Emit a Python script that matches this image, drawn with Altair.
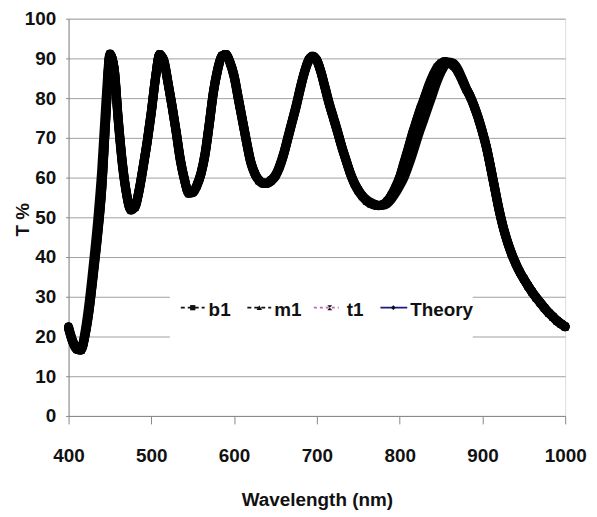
import altair as alt
import pandas as pd

FONT = "Liberation Sans, Arial, sans-serif"

# Wavelength sampling (nm)
wavelength = list(range(400, 1001, 5))

b1 = [
    22.0, 18.6, 16.8, 16.6, 20.5, 27.0, 36.0, 45.5, 57.0, 75.0,
    91.0, 87.5, 74.5, 63.5, 56.0, 52.0, 52.5, 56.5, 62.5, 69.0,
    76.5, 85.0, 91.0, 89.5, 84.0, 78.0, 71.5, 64.5, 59.5, 56.2,
    56.3, 58.0, 61.0, 66.0, 73.5, 81.5, 87.0, 90.5, 91.0, 89.0,
    85.5, 80.0, 74.5, 69.0, 64.0, 61.0, 59.3, 58.6, 58.6, 59.3,
    60.5, 62.8, 66.0, 70.0, 74.0, 78.0, 82.5, 86.5, 89.5, 90.5,
    89.5, 86.5, 82.5, 78.5, 75.0, 71.5, 67.8, 64.5, 61.3, 58.7,
    56.8, 55.3, 54.2, 53.5, 53.1, 53.0, 53.2, 54.0, 55.5, 57.5,
    60.0, 63.5, 67.0, 70.7, 74.0, 77.2, 80.0, 83.0, 85.5, 87.5,
    88.7, 89.2, 88.8, 88.2, 86.8, 84.8, 82.5, 80.5, 78.0, 75.0,
    71.5, 67.5, 62.5, 57.2, 52.0, 47.6, 44.0, 41.0, 38.5, 36.3,
    34.5, 32.8, 31.2, 29.8, 28.5, 27.2, 26.0, 25.0, 24.0, 23.2,
    22.5,
]

m1 = [
    22.3, 18.8, 16.9, 16.5, 20.2, 26.6, 35.5, 45.0, 56.5, 74.5,
    90.8, 87.8, 75.0, 64.0, 56.3, 52.2, 52.4, 56.3, 62.2, 68.8,
    76.2, 84.8, 90.8, 89.7, 84.3, 78.3, 71.8, 64.8, 59.7, 56.3,
    56.2, 57.8, 60.8, 65.7, 73.2, 81.2, 86.8, 90.4, 91.0, 89.2,
    85.8, 80.3, 74.8, 69.3, 64.3, 61.2, 59.4, 58.7, 58.5, 59.1,
    60.3, 62.5, 65.7, 69.7, 73.7, 77.7, 82.2, 86.3, 89.3, 90.4,
    89.6, 86.7, 82.8, 78.8, 75.3, 71.8, 68.0, 64.7, 61.5, 58.9,
    57.0, 55.4, 54.3, 53.6, 53.2, 53.0, 53.1, 53.8, 55.3, 57.3,
    59.8, 63.2, 66.7, 70.4, 73.8, 77.0, 79.8, 82.8, 85.3, 87.3,
    88.6, 89.1, 88.8, 88.3, 86.9, 85.0, 82.7, 80.7, 78.2, 75.2,
    71.7, 67.7, 62.7, 57.4, 52.2, 47.8, 44.2, 41.2, 38.6, 36.4,
    34.6, 32.9, 31.3, 29.9, 28.6, 27.3, 26.1, 25.1, 24.1, 23.3,
    22.6,
]

t1 = [
    22.5, 19.0, 17.2, 17.0, 21.5, 29.0, 38.5, 49.0, 62.0, 79.0,
    91.2, 87.2, 74.0, 63.0, 55.7, 51.8, 52.6, 56.8, 62.8, 69.3,
    76.8, 85.3, 91.0, 89.3, 83.8, 77.8, 71.2, 64.2, 59.3, 56.0,
    56.4, 58.2, 61.3, 66.4, 73.8, 81.8, 87.3, 90.7, 91.0, 88.8,
    85.2, 79.7, 74.2, 68.7, 63.7, 60.8, 59.2, 58.5, 58.7, 59.5,
    60.7, 63.1, 66.3, 70.3, 74.3, 78.3, 82.8, 86.7, 89.7, 90.6,
    89.4, 86.3, 82.3, 78.3, 74.8, 71.3, 67.6, 64.3, 61.1, 58.5,
    56.6, 55.2, 54.1, 53.4, 53.0, 52.9, 53.3, 54.2, 55.7, 57.7,
    60.2, 63.7, 67.2, 70.9, 74.2, 77.4, 80.2, 83.2, 85.7, 87.7,
    88.8, 89.2, 88.7, 88.1, 86.7, 84.6, 82.3, 80.3, 77.8, 74.8,
    71.3, 67.3, 62.3, 57.0, 51.8, 47.4, 43.8, 40.8, 38.3, 36.2,
    34.4, 32.7, 31.1, 29.7, 28.4, 27.1, 25.9, 24.9, 23.9, 23.1,
    22.4,
]

theory = [
    22.0, 18.5, 16.7, 16.6, 20.6, 27.2, 36.2, 45.8, 57.3, 75.3,
    91.0, 87.6, 74.6, 63.6, 56.0, 51.9, 52.5, 56.6, 62.6, 69.1,
    76.6, 85.1, 91.0, 89.5, 84.0, 78.0, 71.5, 64.5, 59.5, 56.2,
    56.3, 58.0, 61.0, 66.0, 73.5, 81.5, 87.0, 90.5, 91.0, 89.0,
    85.5, 80.0, 74.5, 69.0, 64.0, 61.0, 59.3, 58.6, 58.6, 59.3,
    60.5, 62.8, 66.0, 70.0, 74.0, 78.0, 82.5, 86.5, 89.5, 90.5,
    89.5, 86.5, 82.5, 78.5, 75.0, 71.5, 67.8, 64.5, 61.3, 58.7,
    56.9, 55.5, 54.5, 53.8, 53.3, 53.0, 53.0, 53.4, 54.5, 56.0,
    57.8, 59.8, 62.5, 65.5, 68.8, 72.0, 75.0, 78.0, 81.0, 84.0,
    86.5, 88.3, 89.1, 88.8, 87.5, 85.3, 82.8, 80.6, 78.0, 75.0,
    71.5, 67.5, 62.5, 57.2, 52.0, 47.6, 44.0, 41.0, 38.5, 36.3,
    34.5, 32.8, 31.2, 29.8, 28.5, 27.2, 26.0, 25.0, 24.0, 23.2,
    22.5,
]

series_names = ["b1", "m1", "t1", "Theory"]
series_values = [b1, m1, t1, theory]

rows = []
for name, vals in zip(series_names, series_values):
    for w, v in zip(wavelength, vals):
        rows.append({"Wavelength": w, "T": v, "Series": name})
df = pd.DataFrame(rows)

hourglass = "M-1,-1L1,-1L-1,1L1,1Z"

x_enc = alt.X(
    "Wavelength:Q",
    scale=alt.Scale(domain=[400, 1000], nice=False, zero=False),
    axis=alt.Axis(
        values=[400, 500, 600, 700, 800, 900, 1000],
        format="d",
        title="Wavelength (nm)",
        grid=False,
        tickSize=8,
        tickColor="#888888",
        domainColor="#888888",
        labelFont=FONT,
        labelFontSize=19,
        labelFontWeight="bold",
        labelColor="#111111",
        labelBaseline="middle",
        labelPadding=32,
        labelFlush=False,
        labelOverlap=False,
        titleFont=FONT,
        titleFontSize=19,
        titleFontWeight="bold",
        titleColor="#111111",
        titleBaseline="alphabetic",
        titleY=90,
    ),
)
y_enc = alt.Y(
    "T:Q",
    scale=alt.Scale(domain=[0, 100], nice=False),
    axis=alt.Axis(
        values=[0, 10, 20, 30, 40, 50, 60, 70, 80, 90, 100],
        format="d",
        title="T %",
        grid=True,
        gridColor="#a0a0a0",
        gridWidth=1,
        tickSize=3,
        tickColor="#888888",
        domainColor="#888888",
        labelFont=FONT,
        labelFontSize=19,
        labelFontWeight="bold",
        labelColor="#111111",
        labelPadding=10,
        labelOverlap=False,
        titleFont=FONT,
        titleFontSize=19,
        titleFontWeight="bold",
        titleColor="#111111",
        titleAngle=270,
        titleX=-46,
        titleY=202,
        titleAlign="center",
        titleBaseline="middle",
    ),
)

lines = alt.Chart(df).mark_line(
    color="black", strokeWidth=9, interpolate="monotone",
    strokeCap="round", strokeJoin="round",
).encode(x=x_enc, y=y_enc, detail="Series:N")

points = alt.Chart(df).mark_point(filled=True, size=55, color="black", opacity=1).encode(
    x=x_enc,
    y=y_enc,
    shape=alt.Shape(
        "Series:N",
        scale=alt.Scale(domain=series_names, range=["square", "triangle-up", hourglass, "diamond"]),
        legend=None,
    ),
)

# Manual in-plot legend (white box covering gridlines)
legend_layers = [
    alt.Chart(pd.DataFrame({"k": [0]})).mark_rect(color="white").encode(
        x=alt.value(102), x2=alt.value(407), y=alt.value(268), y2=alt.value(330)
    )
]
legend_items = [
    # label, line x0, line x1, marker x, shape, line color, dash, text x, marker size
    ("b1", 113, 137, 125, "square", "#111111", [4, 3], 141, 28),
    ("m1", 180, 204, 192, "triangle-up", "#111111", [4, 3], 207, 30),
    ("t1", 247, 272, 263, hourglass, "#c060c0", [3, 3], 280, 26),
    ("Theory", 314, 341, 327, "diamond", "#1a1a80", [1, 0], 344, 24),
]
for label, lx0, lx1, mx, shp, lcol, dash, tx, msize in legend_items:
    d = pd.DataFrame({"label": [label]})
    legend_layers.append(
        alt.Chart(d).mark_rule(color=lcol, strokeWidth=1.8, strokeDash=dash).encode(
            x=alt.value(lx0), x2=alt.value(lx1), y=alt.value(291)
        )
    )
    legend_layers.append(
        alt.Chart(d).mark_point(shape=shp, filled=True, size=msize, color="#111111", opacity=1).encode(
            x=alt.value(mx), y=alt.value(291)
        )
    )
    legend_layers.append(
        alt.Chart(d).mark_text(
            align="left", baseline="middle", font=FONT, fontSize=19,
            fontWeight="bold", color="#111111",
        ).encode(x=alt.value(tx), y=alt.value(293), text="label:N")
    )

chart = alt.layer(lines, points, *legend_layers).properties(
    width=500,
    height=400,
    autosize=alt.AutoSizeParams(type="none"),
    padding={"left": 61, "top": 9, "right": 24, "bottom": 100},
).configure_view(strokeWidth=0).configure(background="white")

chart.save("out.html", embed_options={"renderer": "svg", "actions": False})
